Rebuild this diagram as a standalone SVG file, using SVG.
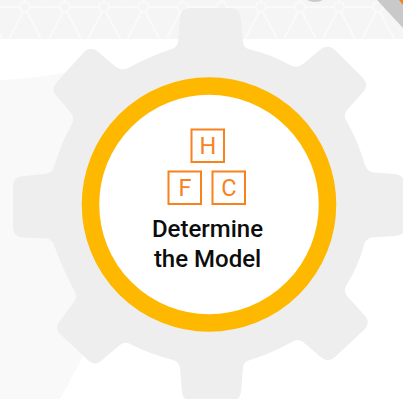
<svg xmlns="http://www.w3.org/2000/svg" width="403" height="399" viewBox="0 0 403 399">
  <style>
    .pat { fill: none; stroke: #fafafa; stroke-width: 2; }
    .box { fill: none; stroke: #f7821e; stroke-width: 2; }
    .letter { font-family: Roboto, "Liberation Sans", sans-serif; font-weight: 400; font-size: 23.500px; fill: #f7821e; text-anchor: middle; }
    .title { font-family: Roboto, "Liberation Sans", sans-serif; font-weight: 500; font-size: 24px; fill: #0d0d0d; text-anchor: middle; }
  </style>
  <defs>
    <g id="cell">
      <path class="pat" d="M-5,7 L-19.600,7 M5,7 L19.600,7 M-2,12 L-16,39 M2,12 L16,39 M0,0 L0,2"/>
      <circle class="pat" cx="0" cy="7" r="5"/>
    </g>
  </defs>
  <rect width="403" height="399" fill="#ffffff"/>
  <g id="background">
    <rect x="0" y="0" width="403" height="39" fill="#f5f5f5"/>
    <use href="#cell" x="-14"/><use href="#cell" x="25"/><use href="#cell" x="65"/><use href="#cell" x="104"/><use href="#cell" x="143.500"/><use href="#cell" x="182.500"/><use href="#cell" x="221.500"/><use href="#cell" x="261"/><use href="#cell" x="300"/><use href="#cell" x="339"/><use href="#cell" x="378"/>
    <path d="M0,50 L0,399 L60,399 L100,325 L100,70 L63,73 Q30,79 0,80 Z" fill="#f9f9f9"/>
    <path d="M377,0 L403,28 L403,0 Z" fill="#c9c9c9"/>
    <path d="M399,0 L403,5 L403,0 Z" fill="#f7821e"/>
    <path d="M307,0 Q315,4 323,0 Z" fill="#c9c9c9"/>
  </g>
  <g id="gear">
    <path fill="#eeeeee" d="M190,8 L230,8 Q240,8 240.500,18 L243,42 Q243.500,48 250,49.500 Q270,54 290,65 Q297,69 303,64 L321,49 Q328,44 335,50 L363,78 Q369,85 364,91 L347,110 Q343,115 346,120 Q358,141 365,165 Q367,172 374,172.500 L395,174 Q405,175 405,185 L405,228 Q405,235 395,236 L372,237.500 Q366,238 364,245 Q358,267 346,286 Q343,291 347,296 L366,317 Q370,323 365,329 L335,357 Q329,363 322,358 L303,342 Q298,338 292,342 Q270,354 250,360 Q243,362 243,368 L241,392 Q240,400 232,400 L190,400 Q183,400 182,392 L180,368 Q179,362 173,360 Q150,354 130,344 Q125,341 120,345 L101,361 Q95,366 89,361 L59,333 Q55,327 59,322 L74,302 Q78,297 75,292 Q62,268 54,245 Q52,239 46,238.500 L23,237.500 Q13,237 13,227 L13,186 Q13,177 23,176 L45,174 Q52,173 54,167 Q61,143 72,124 Q75,118 71,113 L55,94 Q51,88 57,82 L84,52 Q90,46 97,51 L116,67 Q122,71 128,68 Q150,56 172,49 Q177,47 178,42 L180,18 Q181,8 190,8 Z"/>
  </g>
  <g id="ring">
    <circle cx="209" cy="204.500" r="118.500" fill="#ffffff" stroke="#ffb800" stroke-width="17.500"/>
  </g>
  <g id="block-h">
    <rect class="box" x="191.500" y="129.500" width="32.500" height="32.500"/>
    <text class="letter" x="208" y="154">H</text>
  </g>
  <g id="block-f">
    <rect class="box" x="168.500" y="171.500" width="32.500" height="32.500"/>
    <text class="letter" x="185" y="196">F</text>
  </g>
  <g id="block-c">
    <rect class="box" x="212.500" y="171.500" width="32.500" height="32.500"/>
    <text class="letter" x="229" y="196">C</text>
  </g>
  <g id="label">
    <text class="title" x="207.500" y="237">Determine</text>
    <text class="title" x="207.500" y="267">the Model</text>
  </g>
</svg>
